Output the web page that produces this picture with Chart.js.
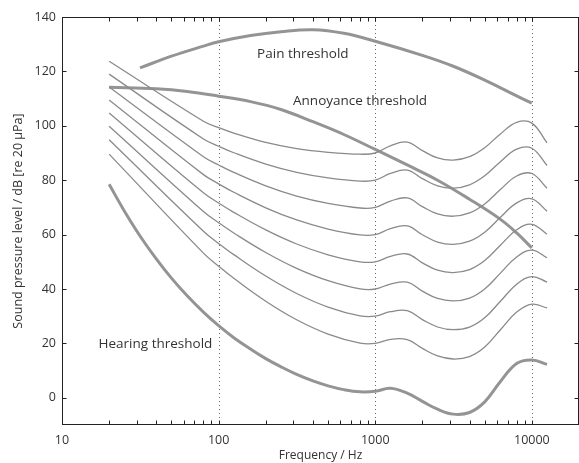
<!DOCTYPE html>
<html>
<head>
<meta charset="utf-8">
<script src="https://cdn.jsdelivr.net/npm/chart.js@4.4.1/dist/chart.umd.min.js"></script>
<style>
  html, body { margin: 0; padding: 0; background: #fff; }
  #wrap { width: 579px; height: 463px; }
</style>
</head>
<body>
<div id="wrap"><canvas id="chart" width="579" height="463"></canvas></div>
<script>
// equal loudness contours, 20..90 phon (dB SPL at each frequency)
const contourFreqs = [20, 80, 100, 125, 200, 315, 500, 800, 1000, 1250, 1600, 2000, 2500, 3150, 4000, 5000, 6300, 8000, 10000, 12500];
const phon20 = [89.58, 53.19, 48.38, 43.94, 35.51, 28.69, 23.43, 20.10, 20.00, 21.46, 21.40, 18.15, 15.38, 14.26, 15.14, 18.64, 25.02, 31.52, 34.43, 33.04];
const phon30 = [94.85, 61.22, 56.76, 52.64, 44.78, 38.36, 33.37, 30.11, 30.00, 31.65, 32.04, 28.76, 26.03, 25.05, 26.02, 29.43, 35.48, 41.75, 44.57, 42.55];
const phon40 = [99.85, 68.48, 64.37, 60.59, 53.41, 47.58, 43.05, 40.06, 40.00, 41.82, 42.51, 39.23, 36.51, 35.61, 36.65, 40.01, 45.83, 51.80, 54.28, 51.49];
const phon50 = [104.72, 75.36, 71.61, 68.17, 61.72, 56.55, 52.59, 49.98, 50.00, 51.99, 52.87, 49.62, 46.91, 46.05, 47.15, 50.48, 56.11, 61.76, 63.78, 60.13];
const phon60 = [109.51, 82.05, 78.65, 75.56, 69.86, 65.39, 62.05, 59.89, 60.00, 62.16, 63.19, 59.96, 57.26, 56.42, 57.57, 60.89, 66.36, 71.66, 73.16, 68.63];
const phon70 = [114.26, 88.64, 85.60, 82.86, 77.92, 74.16, 71.47, 69.78, 70.00, 72.32, 73.47, 70.28, 67.58, 66.76, 67.95, 71.26, 76.59, 81.54, 82.46, 77.04];
const phon80 = [118.99, 95.17, 92.48, 90.09, 85.92, 82.89, 80.86, 79.67, 80.00, 82.48, 83.74, 80.59, 77.89, 77.08, 78.31, 81.62, 86.81, 91.41, 91.74, 85.41];
const phon90 = [123.71, 101.67, 99.33, 97.29, 93.89, 91.60, 90.24, 89.55, 90.00, 92.65, 94.00, 90.88, 88.18, 87.38, 88.66, 91.96, 97.02, 101.26, 100.99, 93.75];

// hearing threshold
const thresholdFreqs = [20, 25, 31.5, 40, 50, 63, 80, 100, 125, 160, 200, 250, 315, 400, 500, 630, 800, 1000, 1250, 1600, 2000, 2500, 3150, 4000, 5000, 6300, 8000, 10000, 12500];
const hearingThreshold = [78.5, 68.7, 59.5, 51.1, 44.0, 37.5, 31.5, 26.5, 22.1, 17.9, 14.4, 11.4, 8.6, 6.2, 4.4, 3.0, 2.2, 2.4, 3.5, 1.7, -1.3, -4.2, -6.0, -5.4, -1.5, 6.0, 12.6, 13.9, 12.3];

// annoyance threshold
const annoyanceFreqs = [20, 40, 63, 100, 160, 250, 400, 630, 1000, 1600, 2500, 4000, 6300, 8000, 10000];
const annoyanceThreshold = [114.2, 113.6, 112.6, 110.9, 108.9, 106.0, 101.5, 96.8, 91.3, 85.6, 80.0, 73.0, 65.6, 60.6, 55.1];

// pain threshold
const painFreqs = [31.5, 50, 80, 100, 160, 250, 400, 630, 1000, 2000, 3150, 5000, 8000, 10000];
const painThreshold = [121.3, 125.6, 129.3, 130.9, 133.2, 134.6, 135.3, 134.0, 131.1, 125.9, 121.9, 116.8, 111.0, 108.3];

// axis ticks
const xTickValues = [10, 100, 1000, 10000];
const xMinorTicks = [20, 30, 40, 50, 60, 70, 80, 90, 200, 300, 400, 500, 600, 700, 800, 900, 2000, 3000, 4000, 5000, 6000, 7000, 8000, 9000];
const yTickValues = [0, 20, 40, 60, 80, 100, 120, 140];
const gridFreqs = [100, 1000, 10000];

// text labels in the plot
const labelTexts = ['Pain threshold', 'Annoyance threshold', 'Hearing threshold'];
const labelFreqs = [345, 800, 39.5];
const labelLevels = [126.4, 109.1, 19.8];

const FONT = "'Open Sans', 'DejaVu Sans', sans-serif";
const TEXT = '#333';
const THIN = 'rgb(138,138,138)';
const THICK = 'rgb(148,148,148)';

const toPoints = (fs, vs) => fs.map((f, i) => ({ x: f, y: vs[i] }));

const contours = [phon20, phon30, phon40, phon50, phon60, phon70, phon80, phon90];
const datasets = contours.map(vs => ({
    data: toPoints(contourFreqs, vs),
    borderColor: THIN,
    borderWidth: 1.3
}));
datasets.push({ data: toPoints(thresholdFreqs, hearingThreshold), borderColor: THICK, borderWidth: 3 });
datasets.push({ data: toPoints(annoyanceFreqs, annoyanceThreshold), borderColor: THICK, borderWidth: 3 });
datasets.push({ data: toPoints(painFreqs, painThreshold), borderColor: THICK, borderWidth: 3 });

// dotted lines, box, inward ticks and the curve labels
const frame = {
    id: 'frame',
    beforeDatasetsDraw(chart) {
        const { ctx, chartArea: a, scales: { x } } = chart;
        ctx.save();
        ctx.strokeStyle = '#666';
        ctx.lineWidth = 1;
        ctx.setLineDash([1, 3]);
        gridFreqs.forEach(f => {
            const px = Math.round(x.getPixelForValue(f)) + 0.5;
            ctx.beginPath();
            ctx.moveTo(px, a.top);
            ctx.lineTo(px, a.bottom);
            ctx.stroke();
        });
        ctx.restore();
    },
    afterDatasetsDraw(chart) {
        const { ctx, chartArea: a, scales: { x, y } } = chart;
        ctx.save();
        ctx.strokeStyle = '#222';
        ctx.lineWidth = 1;
        const L = a.left + 0.5, R = a.right - 0.5, T = a.top + 0.5, B = a.bottom - 0.5;
        ctx.strokeRect(L, T, R - L, B - T);

        ctx.beginPath();
        xTickValues.concat(xMinorTicks).forEach(f => {
            const px = Math.round(x.getPixelForValue(f)) + 0.5;
            ctx.moveTo(px, B); ctx.lineTo(px, B - 4);
            ctx.moveTo(px, T); ctx.lineTo(px, T + 4);
        });
        yTickValues.forEach(v => {
            const py = Math.round(y.getPixelForValue(v)) + 0.5;
            ctx.moveTo(L, py); ctx.lineTo(L + 4, py);
            ctx.moveTo(R, py); ctx.lineTo(R - 4, py);
        });
        ctx.stroke();

        ctx.fillStyle = TEXT;
        ctx.font = '13.5px ' + FONT;
        ctx.textAlign = 'center';
        ctx.textBaseline = 'middle';
        labelTexts.forEach((t, i) => {
            ctx.fillText(t, x.getPixelForValue(labelFreqs[i]), y.getPixelForValue(labelLevels[i]));
        });
        ctx.restore();
    }
};

new Chart(document.getElementById('chart'), {
    type: 'line',
    data: { datasets },
    options: {
        responsive: false,
        animation: false,
        layout: { padding: { top: 17, right: 0, bottom: 0, left: 0 } },
        plugins: { legend: { display: false }, tooltip: { enabled: false } },
        elements: {
            point: { radius: 0 },
            line: { tension: 0.4, fill: false }
        },
        scales: {
            x: {
                type: 'logarithmic',
                min: 10,
                max: 20000,
                grid: { display: false, drawTicks: false },
                border: { display: false },
                afterBuildTicks: s => { s.ticks = xTickValues.map(v => ({ value: v })); },
                afterFit: s => { s.height = 38; },
                ticks: {
                    autoSkip: false, maxRotation: 0, padding: 8, color: TEXT,
                    font: { family: FONT, size: 12.5 },
                    callback: v => String(v)
                },
                title: {
                    display: true, text: 'Frequency / Hz', color: TEXT,
                    font: { family: FONT, size: 12, lineHeight: 1.2 },
                    padding: { top: 0, bottom: 0 }
                }
            },
            y: {
                min: -10,
                max: 140,
                grid: { display: false, drawTicks: false },
                border: { display: false },
                afterBuildTicks: s => { s.ticks = yTickValues.map(v => ({ value: v })); },
                afterFit: s => { s.width = 62; },
                ticks: {
                    padding: 6, color: TEXT,
                    font: { family: FONT, size: 12.5 }
                },
                title: {
                    display: true, text: 'Sound pressure level / dB [re 20 μPa]', color: TEXT,
                    font: { family: FONT, size: 12.5 },
                    padding: { top: 11, bottom: 0 }
                }
            }
        }
    },
    plugins: [frame]
});
</script>
</body>
</html>
